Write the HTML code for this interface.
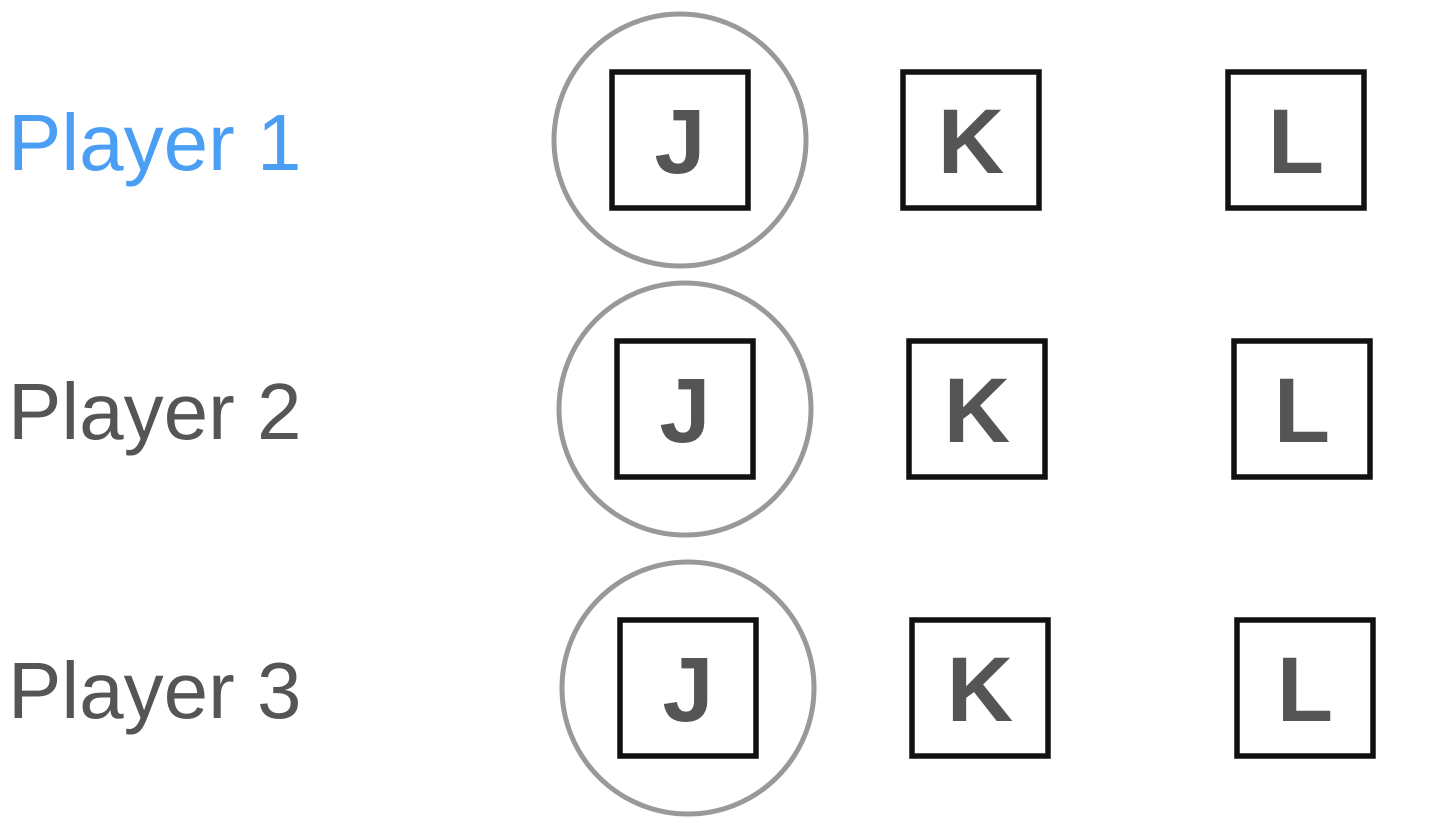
<!DOCTYPE html>
<html><head><meta charset="utf-8"><style>
html,body{margin:0;padding:0;background:#fff;width:1438px;height:826px;overflow:hidden}
svg{display:block}
.lbl{font-family:"Liberation Sans",sans-serif;font-size:80px}
.card{font-family:"Liberation Sans",sans-serif;font-size:92px;font-weight:bold;fill:#555}
</style></head><body>
<svg width="1438" height="826" viewBox="0 0 1438 826">
<g id="rows"></g>
</svg>
<script>
const players=["Player 1","Player 2","Player 3"];
const cards=["J","K","L"];
const selected=[0,0,0];
const rowY=[140,409,688];
const colX=[[680,971,1296],[685,977,1302],[688,980,1305]];
const labelColors=["#4a9ff5","#555","#555"];
const g=document.getElementById('rows');
const NS="http://www.w3.org/2000/svg";
players.forEach((p,i)=>{
  const t=document.createElementNS(NS,'text');
  t.setAttribute('x',8);t.setAttribute('y',rowY[i]+30);
  t.setAttribute('class','lbl');t.setAttribute('fill',labelColors[i]);
  t.textContent=p;
  
  
  g.appendChild(t);
  cards.forEach((c,j)=>{
    const cx=colX[i][j];
    const r=document.createElementNS(NS,'rect');
    r.setAttribute('x',cx-68);r.setAttribute('y',rowY[i]-68);
    r.setAttribute('width',136);r.setAttribute('height',136);
    r.setAttribute('fill','none');r.setAttribute('stroke','#111');r.setAttribute('stroke-width',5.5);
    
    
    g.appendChild(r);
    const ct=document.createElementNS(NS,'text');
    ct.setAttribute('x',cx);ct.setAttribute('y',rowY[i]+33);
    ct.setAttribute('text-anchor','middle');ct.setAttribute('class','card');
    ct.textContent=c;
    
    
    g.appendChild(ct);
    if(selected[i]===j){
      const ci=document.createElementNS(NS,'circle');
      ci.setAttribute('cx',cx);ci.setAttribute('cy',rowY[i]);ci.setAttribute('r',126);
      ci.setAttribute('fill','none');ci.setAttribute('stroke','#999');ci.setAttribute('stroke-width',5);
      
      
      g.appendChild(ci);
    }
  });
});
</script>
</body></html>
